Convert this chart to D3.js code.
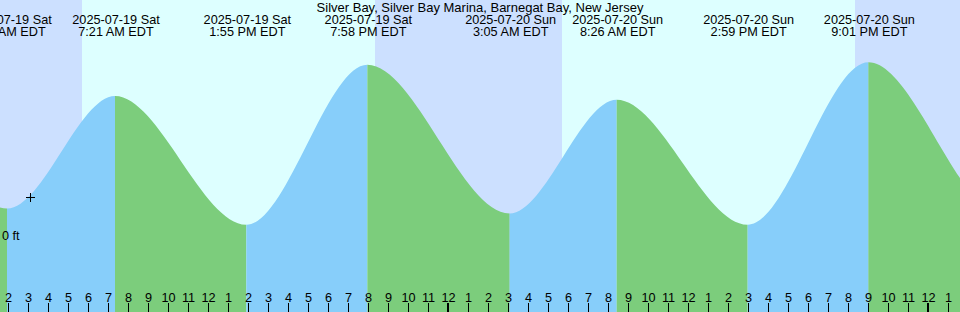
<!DOCTYPE html>
<html>
<head>
    <meta charset="UTF-8">
    <script src="https://d3js.org/d3.v7.min.js"></script>
    <style>
        body { margin: 0; background: #fff; }
        svg { display: block; font-family: "Liberation Sans", Arial, sans-serif; font-size: 12.7px; }
    </style>
</head>
<body>
<div id="chart"></div>
<script>
    // Station name
    const title = "Silver Bay, Silver Bay Marina, Barnegat Bay, New Jersey";

    // High / low tides (the first two and last two are off the picture, they only shape the ends)
    const extremeTimes = ["2025-07-18T12:50", "2025-07-18T18:55", "2025-07-19T01:57", "2025-07-19T07:21",
        "2025-07-19T13:55", "2025-07-19T19:58", "2025-07-20T03:05", "2025-07-20T08:26",
        "2025-07-20T14:59", "2025-07-20T21:01", "2025-07-21T03:45", "2025-07-21T09:30"];
    const extremeHeights = [0.1, 1.35, 0.22, 1.12, 0.09, 1.37, 0.18, 1.09, 0.09, 1.39, 0.17, 1.08];
    const extremeDays = ["2025-07-18 Fri", "2025-07-18 Fri", "2025-07-19 Sat", "2025-07-19 Sat",
        "2025-07-19 Sat", "2025-07-19 Sat", "2025-07-20 Sun", "2025-07-20 Sun",
        "2025-07-20 Sun", "2025-07-20 Sun", "2025-07-21 Mon", "2025-07-21 Mon"];
    const extremeClock = ["12:50 PM EDT", "6:55 PM EDT", "1:57 AM EDT", "7:21 AM EDT",
        "1:55 PM EDT", "7:58 PM EDT", "3:05 AM EDT", "8:26 AM EDT",
        "2:59 PM EDT", "9:01 PM EDT", "3:45 AM EDT", "9:30 AM EDT"];

    // Sun
    const sunrises = ["2025-07-19T05:42", "2025-07-20T05:42"];
    const sunsets = ["2025-07-19T20:21", "2025-07-20T20:21"];

    // Current time mark
    const nowTime = "2025-07-19T03:06";
    const nowHeight = 0.31;

    // Depth labels (ft)
    const depthTicks = [0];

    const startTime = "2025-07-19T01:36";
    const endTime = "2025-07-21T01:36";

    const W = 960, H = 312;
    const parse = d3.timeParse("%Y-%m-%dT%H:%M");

    const tides = extremeTimes.map((t, i) => ({
        time: parse(t), height: extremeHeights[i], day: extremeDays[i], clock: extremeClock[i]
    }));

    const x = d3.scaleTime()
        .domain([parse(startTime), parse(endTime)])
        .range([0, W]);

    const y = d3.scaleLinear()
        .domain([0, 2])
        .range([236, -14]);

    const svg = d3.select("#chart").append("svg")
        .attr("width", W)
        .attr("height", H);

    // day background
    svg.append("rect")
        .attr("width", W).attr("height", H)
        .attr("fill", "#ddffff");

    // night bands
    const rises = sunrises.map(parse), sets = sunsets.map(parse);
    const nights = [[x.domain()[0], rises[0]], [sets[0], rises[1]], [sets[1], x.domain()[1]]];
    svg.selectAll(".night").data(nights).join("rect")
        .attr("class", "night")
        .attr("x", d => x(d[0]))
        .attr("width", d => x(d[1]) - x(d[0]))
        .attr("y", 0).attr("height", H)
        .attr("fill", "#cce0ff");

    // tide area, coloured by rising / falling
    const area = d3.area()
        .x(d => x(d.time))
        .y0(H)
        .y1(d => y(d.height))
        .curve(d3.curveMonotoneX);

    svg.append("clipPath").attr("id", "tide")
        .append("path").datum(tides).attr("d", area);

    const segs = d3.pairs(tides);
    svg.append("g").attr("clip-path", "url(#tide)")
        .selectAll("rect").data(segs).join("rect")
        .attr("x", d => x(d[0].time))
        .attr("width", d => x(d[1].time) - x(d[0].time))
        .attr("y", 0).attr("height", H)
        .attr("fill", d => d[1].height > d[0].height ? "#87cefa" : "#7ccd7c");

    // title
    svg.append("text")
        .attr("x", W / 2).attr("y", 12)
        .attr("text-anchor", "middle")
        .style("font-size", "13px")
        .text(title);

    // high / low labels (only those on the chart)
    const lab = svg.append("g").attr("text-anchor", "middle");
    tides.filter(d => x(d.time) >= 0 && x(d.time) <= W).forEach(d => {
        const cx = x(d.time) + 1;
        lab.append("text").attr("x", cx).attr("y", 24).text(d.day);
        lab.append("text").attr("x", cx).attr("y", 36).text(d.clock);
    });

    // hour ticks
    const hours = x.ticks(d3.timeHour.every(1));
    const fmt = d3.timeFormat("%-I");
    const ax = svg.append("g");
    ax.selectAll("line").data(hours).join("line")
        .attr("x1", d => Math.round(x(d)) + (d.getHours() === 0 ? 0 : 0.5))
        .attr("x2", d => Math.round(x(d)) + (d.getHours() === 0 ? 0 : 0.5))
        .attr("y1", 303).attr("y2", H)
        .attr("stroke", "#000")
        .attr("stroke-width", d => d.getHours() === 0 ? 2 : 1);
    ax.selectAll("text").data(hours).join("text")
        .attr("x", d => x(d) + 0.5)
        .attr("y", 302)
        .attr("text-anchor", "middle")
        .text(d => fmt(d));

    // depth labels
    svg.selectAll(".depth").data(depthTicks).join("text")
        .attr("class", "depth")
        .attr("x", 2)
        .attr("y", d => y(d) + 4)
        .text(d => d + " ft");

    // current time mark
    const nx = Math.round(x(parse(nowTime))) + 0.5, ny = Math.round(y(nowHeight)) + 0.5;
    svg.append("path")
        .attr("d", `M${nx - 4.5},${ny}H${nx + 4.5}M${nx},${ny - 4.5}V${ny + 4.5}`)
        .attr("stroke", "#000")
        .attr("fill", "none");
</script>
</body>
</html>
